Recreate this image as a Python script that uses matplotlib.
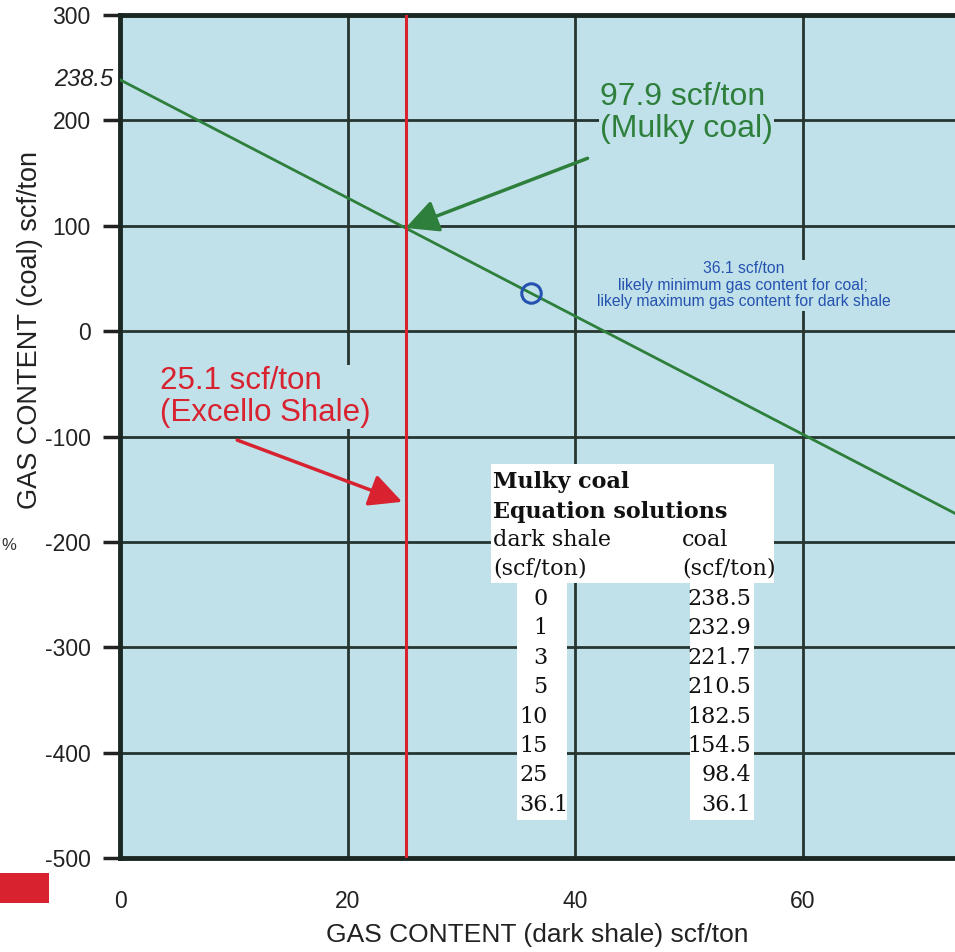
import matplotlib
matplotlib.use("Agg")
import matplotlib.pyplot as plt
from matplotlib.patches import Rectangle
import matplotlib.transforms as mtransforms
import numpy as np

# table of equation solutions (dark shale vs coal gas content, scf/ton)
shale = ["0", "1", "3", "5", "10", "15", "25", "36.1"]
coal = ["238.5", "232.9", "221.7", "210.5", "182.5", "154.5", "98.4", "36.1"]
coal_intercept = 238.5
excello = 25.1
mulky = 97.9
crossover = 36.1
yticks = [300, 200, 100, 0, -100, -200, -300, -400, -500]
xticks = [0, 20, 40, 60]

bg = "#c0e1ea"
grid_c = "#26352f"
green = "#2e7f3b"
red = "#d8222f"
blue = "#2552b0"

plt.rcParams["font.family"] = ["Liberation Sans", "DejaVu Sans"]
plt.rcParams["axes.unicode_minus"] = False

fig = plt.figure(figsize=(9.55, 9.52), dpi=100)
ax = fig.add_axes([120 / 955, 1 - 858 / 952, 835 / 955, (858 - 15) / 952])
ax.set_facecolor(bg)
ax.set_xlim(0, 73.4)
ax.set_ylim(-500, 300)

ax.set_xticks(xticks)
ax.set_yticks(yticks)
ax.tick_params(axis="x", length=0, pad=23, labelsize=16.5, colors="#222")
ax.tick_params(axis="y", length=12, width=2.5, pad=9, labelsize=16.5, colors="#222")
ax.grid(True, color=grid_c, lw=2, zorder=1)
ax.set_axisbelow(True)
for s in ["left", "top", "bottom"]:
    ax.spines[s].set_linewidth(3.5)
    ax.spines[s].set_color("#1b2723")
ax.spines["right"].set_visible(False)

ax.set_xlabel("GAS CONTENT (dark shale) scf/ton", fontsize=19, color="#222", labelpad=7)
fig.text(30 / 955, 1 - 330 / 952, "GAS CONTENT (coal) scf/ton", rotation=90,
         ha="center", va="center", fontsize=19.5, color="#222")

# italic intercept label on y axis
trans = mtransforms.blended_transform_factory(ax.transAxes, ax.transData)
ax.text(-0.008, coal_intercept, str(coal_intercept), transform=trans, ha="right",
        va="center", fontsize=17, style="italic", color="#222")

# coal line from the equation solutions
sx = np.array([float(v) for v in shale])
cy = np.array([float(v) for v in coal])
slope, inter = np.polyfit(sx, cy, 1)
ax.axline((0, inter), slope=slope, color=green, lw=2, zorder=3)
ax.axvline(excello, color=red, lw=2.2, zorder=3)

ax.plot([crossover], [crossover], "o", mfc="none", mec=blue, ms=14, mew=2.2, zorder=4)

# annotations
ax.text(42.2, 207, "97.9 scf/ton\n(Mulky coal)", color=green, fontsize=23,
        ha="left", va="center", linespacing=1.08, zorder=5,
        bbox=dict(facecolor=bg, edgecolor="none", pad=1))
ax.annotate("", xy=(excello, mulky), xytext=(41.1, 164),
            arrowprops=dict(arrowstyle="-|>,head_length=1.0,head_width=0.5",
                            mutation_scale=20, color=green, lw=2.5,
                            shrinkA=0, shrinkB=0), zorder=5)

ax.text(3.5, -62.6, "25.1 scf/ton\n(Excello Shale)", color=red, fontsize=22.5,
        ha="left", va="center", linespacing=1.08, zorder=5,
        bbox=dict(facecolor=bg, edgecolor="none", pad=1))
ax.annotate("", xy=(24.8, -162), xytext=(10.3, -103.4),
            arrowprops=dict(arrowstyle="-|>,head_length=1.0,head_width=0.5",
                            mutation_scale=20, color=red, lw=2.5,
                            shrinkA=0, shrinkB=0), zorder=5)

ax.text(54.8, 43.6, "36.1 scf/ton\nlikely minimum gas content for coal;\n"
        "likely maximum gas content for dark shale", color=blue, fontsize=11.3,
        ha="center", va="center", linespacing=1.12, zorder=5,
        bbox=dict(facecolor=bg, edgecolor="none", pad=1))

# table boxes
ax.add_patch(Rectangle((32.6, -239.1), 57.5 - 32.6, 239.1 - 126.2,
                       facecolor="white", edgecolor="none", zorder=2))
ax.add_patch(Rectangle((34.9, -464), 39.3 - 34.9, 464 - 239.1,
                       facecolor="white", edgecolor="none", zorder=2))
ax.add_patch(Rectangle((50.1, -464), 55.7 - 50.1, 464 - 239.1,
                       facecolor="white", edgecolor="none", zorder=2))

serif = ["DejaVu Serif"]
tfs = 16
ax.text(32.8, -143.3, "Mulky coal", family=serif, weight="bold", fontsize=tfs,
        va="center", color="#111", zorder=6)
ax.text(32.8, -171.7, "Equation solutions", family=serif, weight="bold", fontsize=tfs,
        va="center", color="#111", zorder=6)
ax.text(32.8, -198.3, "dark shale", family=serif, fontsize=tfs, va="center",
        color="#111", zorder=6)
ax.text(32.8, -224.9, "(scf/ton)", family=serif, fontsize=tfs, va="center",
        color="#111", zorder=6)
ax.text(49.4, -198.3, "coal", family=serif, fontsize=tfs, va="center",
        color="#111", zorder=6)
ax.text(49.4, -224.9, "(scf/ton)", family=serif, fontsize=tfs, va="center",
        color="#111", zorder=6)

for i, (s, c) in enumerate(zip(shale, coal)):
    yy = -254.3 - 27.9 * i
    ip, dot, fp = s.partition(".")
    ax.text(37.6, yy, ip, family=serif, fontsize=tfs, ha="right", va="center",
            color="#111", zorder=6)
    if dot:
        ax.text(37.6, yy, "." + fp, family=serif, fontsize=tfs, ha="left",
                va="center", color="#111", zorder=6)
    ax.text(55.5, yy, c, family=serif, fontsize=tfs, ha="right", va="center",
            color="#111", zorder=6)

# fragments of neighbouring figure at the left edge
fig.text(1 / 955, 1 - 545 / 952, "%", ha="left", va="center", fontsize=12, color="#333")
fig.patches.append(Rectangle((0, 1 - 903 / 952), 49 / 955, 30 / 952,
                             transform=fig.transFigure, facecolor=red,
                             edgecolor="none"))

fig.savefig("out.png", dpi=100)
